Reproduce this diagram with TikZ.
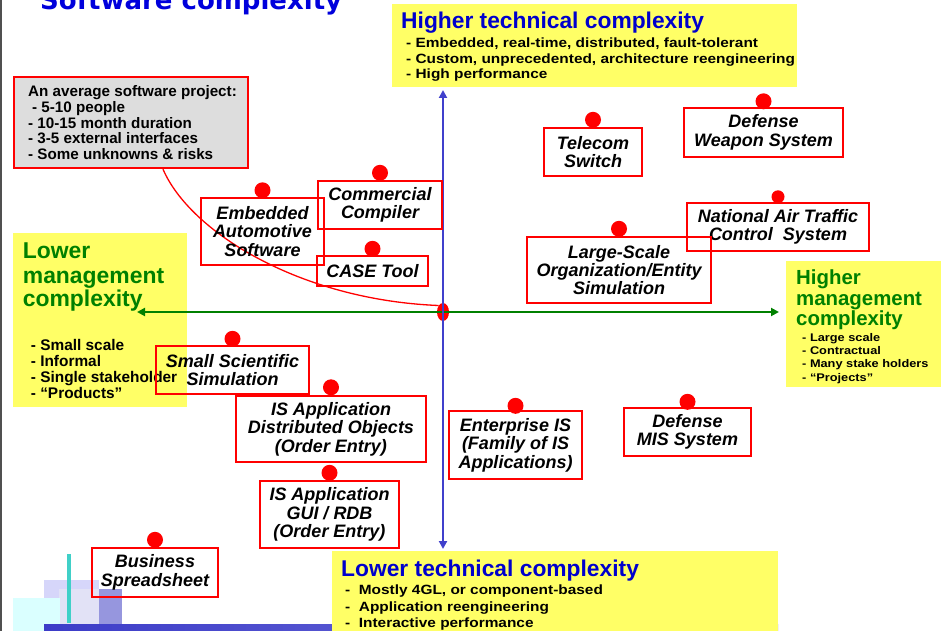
\documentclass[tikz,border=0pt]{standalone}
\usepackage{fontspec}
\setmainfont{Liberation Sans}
\newfontfamily\widefont[FakeStretch=1.15]{Liberation Sans}
\newfontfamily\titlefont{DejaVu Sans}
\usetikzlibrary{arrows.meta,shapes.geometric}

\definecolor{padyellow}{RGB}{255,255,102}
\definecolor{axisblue}{RGB}{64,64,204}
\definecolor{headblue}{RGB}{0,0,204}
\definecolor{titleblue}{RGB}{0,0,220}
\definecolor{headgreen}{RGB}{0,128,0}
\definecolor{boxred}{RGB}{255,0,0}
\definecolor{panelgray}{RGB}{221,221,221}
\definecolor{edgegray}{RGB}{80,80,80}
\definecolor{decolav}{RGB}{214,214,250}
\definecolor{decohatch}{RGB}{226,226,246}
\definecolor{decodark}{RGB}{150,150,222}
\definecolor{decocyan}{RGB}{218,255,255}
\definecolor{decoteal}{RGB}{64,208,200}
\definecolor{barleft}{RGB}{60,60,200}
\definecolor{barright}{RGB}{120,120,220}

\begin{document}
\begin{tikzpicture}[x=1pt,y=-1pt,
  txt/.style={anchor=base west, inner sep=0pt},
  item/.style={draw=boxred, line width=2.4pt, align=center, inner sep=0pt,
    font=\bfseries\itshape\fontsize{18pt}{18.4pt}\selectfont},
  reddot/.style={circle, fill=boxred, inner sep=0pt, minimum size=16pt},
  smalldot/.style={reddot, minimum size=13pt},
  pad/.style={fill=padyellow},
  bigblue/.style={txt, text=headblue, font=\bfseries\fontsize{22.8pt}{24pt}\selectfont},
  bluebullet/.style={txt, font=\widefont\bfseries\fontsize{13.4pt}{15.7pt}\selectfont},
  greenhead/.style={txt, text=headgreen, font=\bfseries\fontsize{22.9pt}{24pt}\selectfont},
  greenheadR/.style={txt, text=headgreen, font=\bfseries\fontsize{20.4pt}{21pt}\selectfont},
  leftbullet/.style={txt, font=\bfseries\fontsize{15.4pt}{16pt}\selectfont},
  rightbullet/.style={txt, font=\widefont\bfseries\fontsize{11.1pt}{13pt}\selectfont},
  graytext/.style={txt, font=\bfseries\fontsize{15.2pt}{16pt}\selectfont},
  vaxis/.style={draw=axisblue, line width=2.7pt, {Triangle[width=8pt,length=8pt]}-{Triangle[width=8pt,length=8pt]}},
  haxis/.style={draw=headgreen, line width=2.6pt, {Triangle[width=8pt,length=8pt]}-{Triangle[width=8pt,length=8pt]}}
]
\useasboundingbox (0,0) rectangle (941,631);
\begin{scope}
\clip (0,0) rectangle (941,631);

% slide edge and heading (runs off the top)
\fill[edgegray] (0,0) rectangle (1.5,631);
\node[txt, text=titleblue, font=\titlefont\bfseries\fontsize{26pt}{28pt}\selectfont]
  (slideTitle) at (40,9.5) {Software complexity};

% corner ornament
\fill[decolav] (44,580) rectangle (99,631);
\fill[decohatch] (59,589) rectangle (99,631);
\fill[decodark] (99,589) rectangle (122,631);
\fill[decocyan] (13,598) rectangle (60,631);
\draw[decoteal, line width=4pt] (68.7,554) -- (68.7,623);
\shade[left color=barleft, right color=barright] (44,624) rectangle (778,630);

% yellow label pads
\fill[pad] (392,4) rectangle (797,87);
\fill[pad] (13,233) rectangle (187,407);
\fill[pad] (786,261) rectangle (941,387);
\fill[pad] (332,551) rectangle (778,631);

% higher technical complexity
\node[bigblue] (hiTechHead) at (401,29) {Higher technical complexity};
\node[bluebullet] (hiTech1) at (406,47.7) {- Embedded, real-time, distributed, fault-tolerant};
\node[bluebullet] (hiTech2) at (406,63.3) {- Custom, unprecedented, architecture reengineering};
\node[bluebullet] (hiTech3) at (406,79) {- High performance};

% lower technical complexity
\node[bigblue] (loTechHead) at (341,576) {Lower technical complexity};
\node[bluebullet] (loTech1) at (345,594.3) {-\ \ Mostly 4GL, or component-based};
\node[bluebullet] (loTech2) at (345,611) {-\ \ Application reengineering};
\node[bluebullet] (loTech3) at (345,627.3) {-\ \ Interactive performance};

% lower management complexity
\node[greenhead] (loMgtA) at (22.7,258.3) {Lower};
\node[greenhead] (loMgtB) at (22.7,283) {management};
\node[greenhead] (loMgtC) at (22.7,306.5) {complexity};
\node[leftbullet] (loMgt1) at (30.7,350.7) {- Small scale};
\node[leftbullet] (loMgt2) at (30.7,366.7) {- Informal};
\node[leftbullet] (loMgt3) at (30.7,382.7) {- Single stakeholder};
\node[leftbullet] (loMgt4) at (30.7,398.5) {- “Products”};

% higher management complexity
\node[greenheadR] (hiMgtA) at (796,284) {Higher};
\node[greenheadR] (hiMgtB) at (796,305) {management};
\node[greenheadR] (hiMgtC) at (796,325.5) {complexity};
\node[rightbullet] (hiMgt1) at (802,341) {- Large scale};
\node[rightbullet] (hiMgt2) at (802,354.3) {- Contractual};
\node[rightbullet] (hiMgt3) at (802,367.6) {- Many stake holders};
\node[rightbullet] (hiMgt4) at (802,381) {- “Projects”};

% average project panel
\node[draw=boxred, fill=panelgray, line width=2.4pt, inner sep=0pt,
  minimum width=234pt, minimum height=91pt] (avg) at (131,122.5) {};
\node[graytext] (avg0) at (28,96.7) {An average software project:};
\node[graytext] (avg1) at (32,112.3) {- 5-10 people};
\node[graytext] (avg2) at (28,128.3) {- 10-15 month duration};
\node[graytext] (avg3) at (28,144) {- 3-5 external interfaces};
\node[graytext] (avg4) at (28,160) {- Some unknowns \& risks};

% origin and axes
\node[ellipse, fill=boxred, inner sep=0pt, minimum width=12pt, minimum height=18pt] (origin) at (443,312) {};
\coordinate (avgTail) at ([xshift=32pt]avg.south);
\draw[boxred, line width=1.3pt] (avgTail) .. controls (190,232) and (300,300) .. (origin.north west);
\coordinate (vTop) at (443,90);
\coordinate (vBot) at (443,549);
\coordinate (hLeft) at (137,312);
\coordinate (hRight) at (779,312);
\draw[haxis] (hLeft) -- (hRight);
\draw[vaxis] (vTop) -- (vBot);

% project types
\node[item, minimum width=123pt, minimum height=67pt] (emb) at (262.5,231.5) {Embedded\\Automotive\\Software};
\node[item, minimum width=124pt, minimum height=48pt] (comp) at (380,205) {Commercial\\Compiler};
\node[item, minimum width=111pt, minimum height=30pt] (caset) at (372.5,271) {CASE Tool};
\node[item, minimum width=98pt, minimum height=48pt] (tel) at (593,152) {Telecom\\Switch};
\node[item, minimum width=159pt, minimum height=49pt] (dws) at (763.5,132.5) {Defense\\Weapon System};
\node[item, minimum width=182pt, minimum height=48pt] (natc) at (778,227) {National Air Traffic\\Control\ \ System};
\node[item, minimum width=184pt, minimum height=66pt] (lso) at (619,270) {Large-Scale\\Organization/Entity\\Simulation};
\node[item, minimum width=153pt, minimum height=48pt] (sss) at (232.5,370) {Small Scientific\\Simulation};
\node[item, minimum width=190pt, minimum height=66pt] (isdo) at (331,429) {IS Application\\Distributed Objects\\(Order Entry)};
\node[item, minimum width=139pt, minimum height=67pt] (isgui) at (329.5,514.5) {IS Application\\GUI / RDB\\(Order Entry)};
\node[item, minimum width=133pt, minimum height=68pt] (ent) at (515.5,445) {Enterprise IS\\(Family of IS\\Applications)};
\node[item, minimum width=127pt, minimum height=48pt] (dmis) at (687.5,432) {Defense\\MIS System};
\node[item, minimum width=126pt, minimum height=49pt] (bus) at (155,572.5) {Business\\Spreadsheet};

% position markers
\node[reddot] (embDot) at ([yshift=6.5pt]emb.north) {};
\node[reddot] (compDot) at ([yshift=7pt]comp.north) {};
\node[reddot] (caseDot) at ([yshift=6pt]caset.north) {};
\node[reddot] (telDot) at ([yshift=7pt]tel.north) {};
\node[reddot] (dwsDot) at ([yshift=5.5pt]dws.north) {};
\node[smalldot] (natcDot) at ([yshift=5pt]natc.north) {};
\node[reddot] (lsoDot) at ([yshift=7pt]lso.north) {};
\node[reddot] (sssDot) at ([yshift=6pt]sss.north) {};
\node[reddot] (isdoDot) at ([yshift=7.5pt]isdo.north) {};
\node[reddot] (isguiDot) at ([yshift=7pt]isgui.north) {};
\node[reddot] (entDot) at ([yshift=4pt]ent.north) {};
\node[reddot] (dmisDot) at ([yshift=5pt]dmis.north) {};
\node[reddot] (busDot) at ([yshift=7pt]bus.north) {};
\end{scope}
\end{tikzpicture}
\end{document}
